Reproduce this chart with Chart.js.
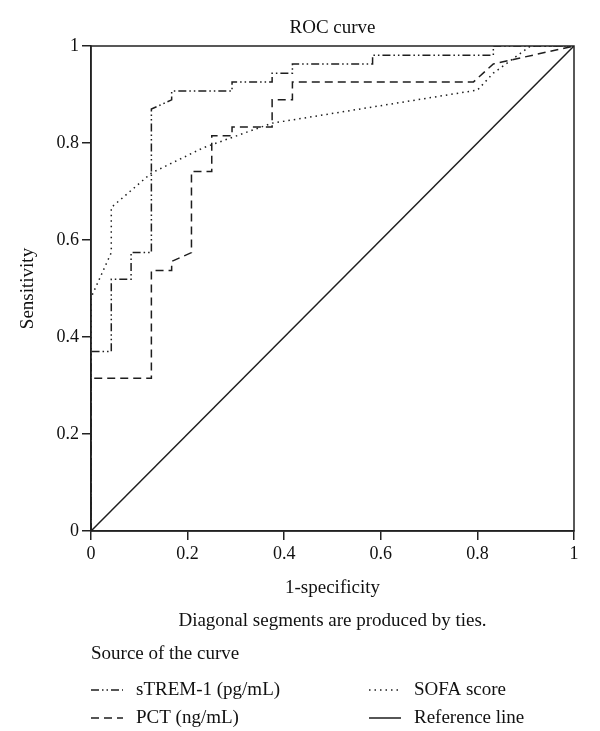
<!DOCTYPE html>
<html>
<head>
<meta charset="utf-8">
<script src="https://cdn.jsdelivr.net/npm/chart.js@4.4.1/dist/chart.umd.min.js"></script>
<style>
  html, body { margin: 0; padding: 0; background: #fff; }
</style>
</head>
<body>
<canvas id="roc" width="600" height="731"></canvas>
<script>
// Textos de la figura
const titulo = 'ROC curve';
const tituloX = '1-specificity';
const tituloY = 'Sensitivity';
const notaPie = 'Diagonal segments are produced by ties.';
const tituloLeyenda = 'Source of the curve';

// Marcas de los ejes (iguales en x e y)
const ticksEje = [0, 0.2, 0.4, 0.6, 0.8, 1];

// sTREM-1 (pg/mL): 1-especificidad / sensibilidad
const stremX = [0, 0, 0.042, 0.042, 0.083, 0.083, 0.125, 0.125, 0.167, 0.167, 0.292, 0.292, 0.375, 0.375, 0.417, 0.417, 0.583, 0.583, 0.833, 0.833, 1];
const stremY = [0, 0.370, 0.370, 0.519, 0.519, 0.574, 0.574, 0.870, 0.889, 0.907, 0.907, 0.926, 0.926, 0.944, 0.944, 0.963, 0.963, 0.981, 0.981, 1, 1];

// PCT (ng/mL)
const pctX = [0, 0, 0.125, 0.125, 0.167, 0.167, 0.208, 0.208, 0.250, 0.250, 0.292, 0.292, 0.375, 0.375, 0.417, 0.417, 0.792, 0.833, 1];
const pctY = [0, 0.315, 0.315, 0.537, 0.537, 0.556, 0.574, 0.741, 0.741, 0.815, 0.815, 0.833, 0.833, 0.889, 0.889, 0.926, 0.926, 0.963, 1];

// SOFA score
const sofaX = [0, 0, 0.042, 0.042, 0.125, 0.232, 0.375, 0.800, 0.833, 0.910, 1];
const sofaY = [0, 0.481, 0.574, 0.667, 0.738, 0.790, 0.841, 0.909, 0.944, 1, 1];

// Línea de referencia
const refX = [0, 1];
const refY = [0, 1];

const etiquetas = ['sTREM-1 (pg/mL)', 'PCT (ng/mL)', 'SOFA score', 'Reference line'];

const aPuntos = (xs, ys) => xs.map((x, i) => ({ x: x, y: ys[i] }));

const colorLinea = '#1e1e1e';
const fuente = '"Liberation Serif", "Times New Roman", serif';

Chart.defaults.font.family = fuente;
Chart.defaults.color = '#111';

function serie(label, xs, ys, dash) {
    return {
        label: label,
        data: aPuntos(xs, ys),
        showLine: true,
        borderColor: colorLinea,
        borderWidth: 1.5,
        borderDash: dash,
        pointRadius: 0,
        tension: 0,
        fill: false
    };
}

// Marco, títulos y leyenda dibujados a mano
const textoExtra = {
    id: 'textoExtra',
    afterDraw(chart) {
        const { ctx, chartArea: a } = chart;
        ctx.save();
        ctx.strokeStyle = '#222';
        ctx.lineWidth = 1.5;
        ctx.strokeRect(a.left, a.top, a.right - a.left, a.bottom - a.top);

        ctx.fillStyle = '#111';
        ctx.font = '19px ' + fuente;
        ctx.textAlign = 'center';
        ctx.textBaseline = 'middle';
        const cx = (a.left + a.right) / 2;
        ctx.fillText(titulo, cx, a.top - 18);
        ctx.fillText(tituloX, cx, a.bottom + 57);
        ctx.fillText(notaPie, cx, a.bottom + 90);

        ctx.save();
        ctx.translate(28, (a.top + a.bottom) / 2);
        ctx.rotate(-Math.PI / 2);
        ctx.fillText(tituloY, 0, 0);
        ctx.restore();

        ctx.textAlign = 'left';
        ctx.fillText(tituloLeyenda, a.left, a.bottom + 123);
        chart.data.datasets.forEach((ds, i) => {
            const col = Math.floor(i / 2), fila = i % 2;
            const x0 = a.left + col * 278;
            const y0 = a.bottom + 159 + fila * 28;
            ctx.strokeStyle = colorLinea;
            ctx.lineWidth = 1.5;
            ctx.setLineDash(ds.borderDash || []);
            ctx.beginPath();
            ctx.moveTo(x0, y0);
            ctx.lineTo(x0 + 32, y0);
            ctx.stroke();
            ctx.setLineDash([]);
            ctx.fillText(ds.label, x0 + 45, y0);
        });
        ctx.restore();
    }
};

function ejeBase(extra) {
    return Object.assign({
        type: 'linear',
        min: 0,
        max: 1,
        afterBuildTicks: s => { s.ticks = ticksEje.map(v => ({ value: v })); },
        ticks: { font: { size: 18 }, color: '#111', callback: v => String(v) },
        grid: { display: true, drawOnChartArea: false, drawTicks: true, tickLength: 9, color: '#222', lineWidth: 1.5 },
        border: { display: true, color: '#222', width: 1.5 },
        title: { display: false }
    }, extra);
}

new Chart(document.getElementById('roc'), {
    type: 'scatter',
    data: {
        datasets: [
            serie(etiquetas[0], stremX, stremY, [8, 3, 1.5, 3, 1.5, 3]),
            serie(etiquetas[1], pctX, pctY, [8, 5]),
            serie(etiquetas[2], sofaX, sofaY, [1.5, 4]),
            serie(etiquetas[3], refX, refY, [])
        ]
    },
    options: {
        responsive: false,
        animation: false,
        layout: { padding: { left: 0, top: 46, right: 26, bottom: 0 } },
        plugins: { legend: { display: false }, tooltip: { enabled: false } },
        scales: {
            x: ejeBase({ position: 'bottom', afterFit: s => { s.height = 200; } }),
            y: ejeBase({ position: 'left', afterFit: s => { s.width = 91; } })
        }
    },
    plugins: [textoExtra]
});
</script>
</body>
</html>
